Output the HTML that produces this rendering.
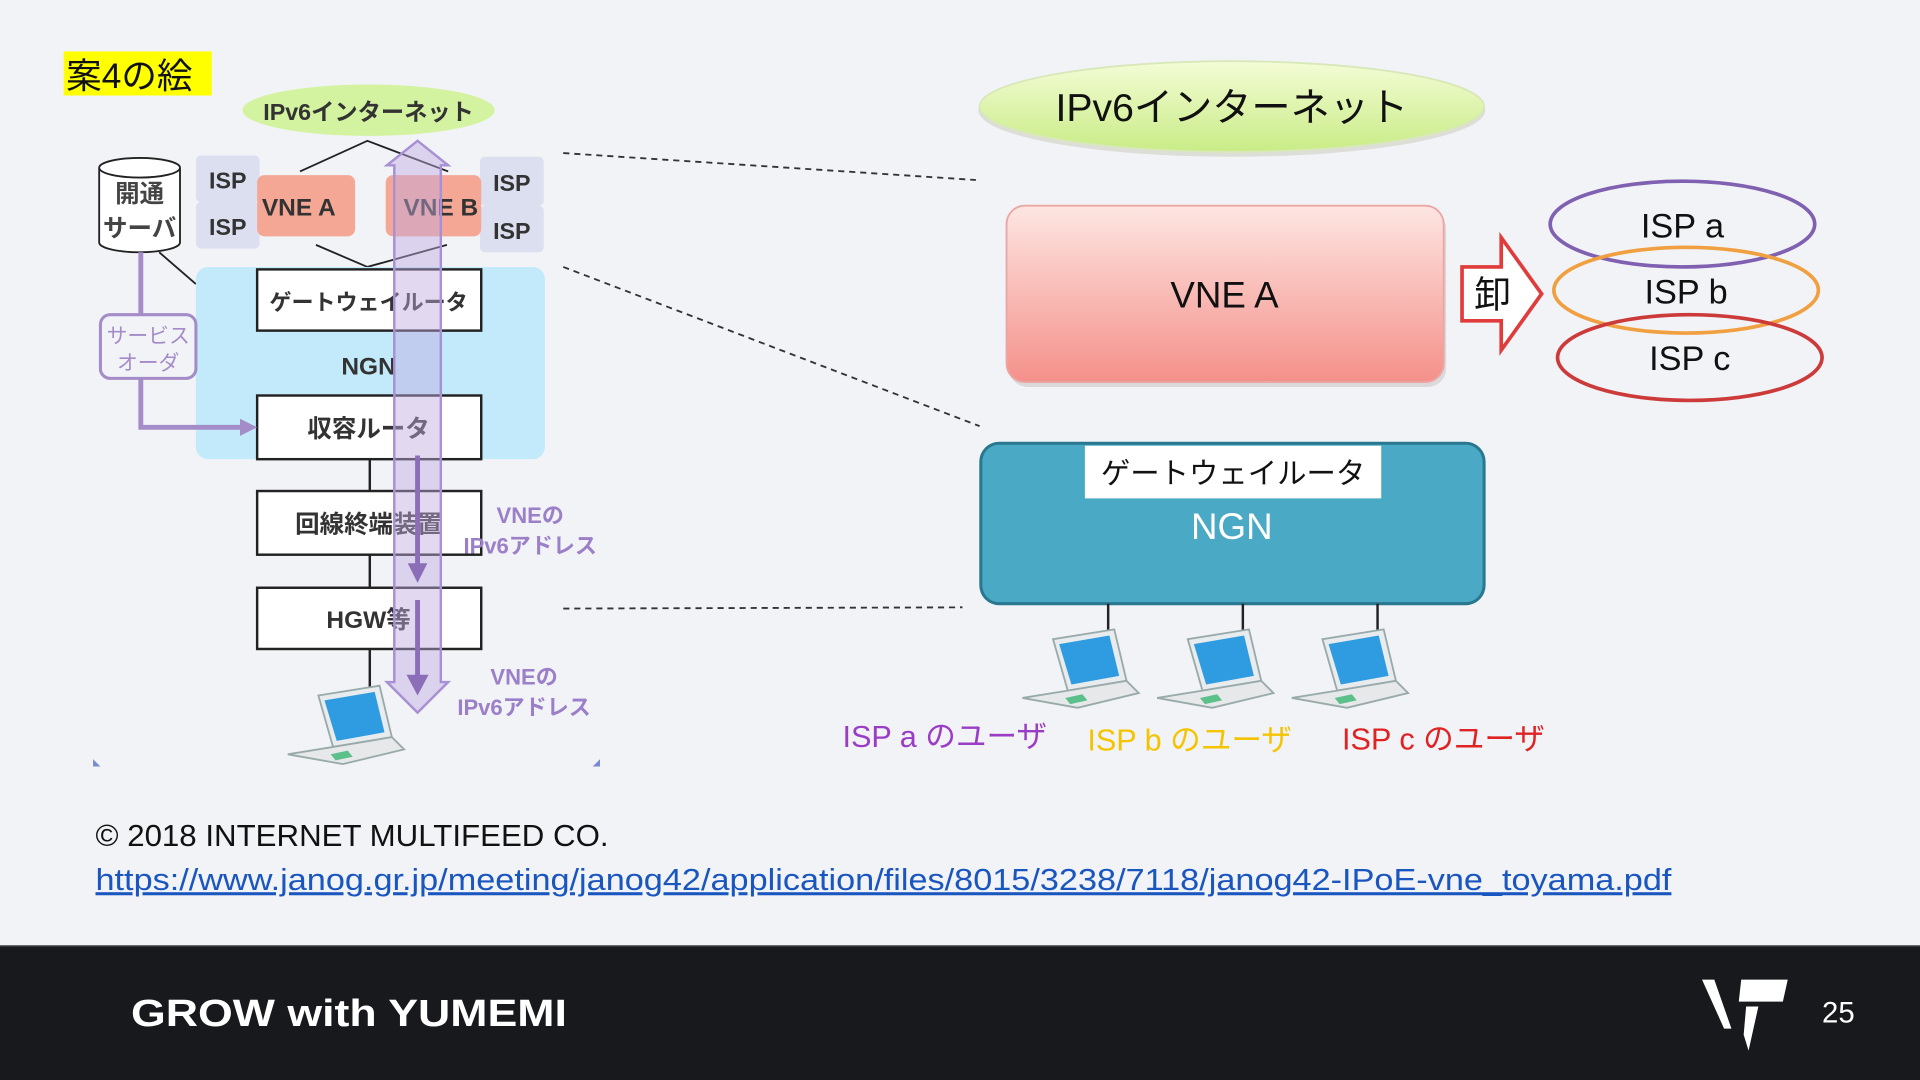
<!DOCTYPE html>
<html><head><meta charset="utf-8"><style>
html,body{margin:0;padding:0;width:1920px;height:1080px;overflow:hidden;background:#f2f3f7}
svg{display:block}
text{font-family:"Liberation Sans","Noto Sans CJK JP",sans-serif}
</style></head><body>
<svg width="1920" height="1080" viewBox="0 0 1568 882" xmlns="http://www.w3.org/2000/svg">
<defs>
<linearGradient id="gE" x1="0" y1="0" x2="0" y2="1"><stop offset="0" stop-color="#f4fcd6"/><stop offset="1" stop-color="#c9ec86"/></linearGradient>
<linearGradient id="gV" x1="0" y1="0" x2="0" y2="1"><stop offset="0" stop-color="#fde6e2"/><stop offset="1" stop-color="#f5908a"/></linearGradient>
<g id="lap">
<polygon points="-20,-28 30,-36 40,6 -8,14" fill="#e8ecef" stroke="#9aa" stroke-width="1.5"/>
<polygon points="-15,-24 26,-31 34,2 -5,9" fill="#2f9be0"/>
<polygon points="-8,14 40,6 50,16 0,28 -45,20" fill="#e6e8ea" stroke="#9aa" stroke-width="1.5"/>
<polygon points="-10,20 4,17 8,22 -6,25" fill="#5cc08a"/>
</g>
</defs>
<rect width="1568" height="882" fill="#f2f3f7"/>
<rect x="52" y="42" width="121" height="36" fill="#ffff00"/>
<text x="54" y="72" font-size="29" fill="#111">案4の絵</text>
<ellipse cx="301" cy="90" rx="103" ry="21" fill="#d3f3a0"/>
<text x="301" y="98" font-size="19" font-weight="bold" fill="#333" text-anchor="middle">IPv6インターネット</text>
<polyline points="245,140 300,115 366,140" fill="none" stroke="#222" stroke-width="1.5"/>
<polyline points="258,200 300,218 365,200" fill="none" stroke="#222" stroke-width="1.5"/>
<rect x="160" y="127" width="52" height="38" rx="4" fill="#dcdff0"/>
<rect x="160" y="165" width="52" height="38" rx="4" fill="#dcdff0"/>
<rect x="392" y="128" width="52" height="40" rx="4" fill="#dcdff0"/>
<rect x="392" y="168" width="52" height="38" rx="4" fill="#dcdff0"/>
<text x="186" y="154" font-size="19" font-weight="bold" fill="#333" text-anchor="middle">ISP</text>
<text x="186" y="192" font-size="19" font-weight="bold" fill="#333" text-anchor="middle">ISP</text>
<text x="418" y="156" font-size="19" font-weight="bold" fill="#333" text-anchor="middle">ISP</text>
<text x="418" y="195" font-size="19" font-weight="bold" fill="#333" text-anchor="middle">ISP</text>
<rect x="210" y="143" width="80" height="50" rx="6" fill="#f4a795"/>
<rect x="315" y="143" width="78" height="50" rx="6" fill="#f4a795"/>
<text x="244" y="176" font-size="20" font-weight="bold" fill="#333" text-anchor="middle">VNE A</text>
<text x="360" y="176" font-size="20" font-weight="bold" fill="#333" text-anchor="middle">VNE B</text>
<path d="M81,137 L81,198 A33,8 0 0 0 147,198 L147,137" fill="#fff" stroke="#222" stroke-width="1.5"/>
<ellipse cx="114" cy="137" rx="33" ry="8" fill="#fff" stroke="#222" stroke-width="1.5"/>
<text x="114" y="165" font-size="20" font-weight="bold" fill="#444" text-anchor="middle">開通</text>
<text x="114" y="193" font-size="20" font-weight="bold" fill="#444" text-anchor="middle">サーバ</text>
<line x1="130" y1="206" x2="160" y2="232" stroke="#222" stroke-width="1.5"/>
<rect x="160" y="218" width="285" height="157" rx="10" fill="#c2eafa"/>
<rect x="210" y="220" width="183" height="50" fill="#fff" stroke="#222" stroke-width="2"/>
<text x="301" y="253" font-size="18" font-weight="bold" fill="#333" text-anchor="middle">ゲートウェイルータ</text>
<text x="301" y="306" font-size="20" font-weight="bold" fill="#333" text-anchor="middle">NGN</text>
<rect x="210" y="323" width="183" height="52" fill="#fff" stroke="#222" stroke-width="2"/>
<text x="301" y="357" font-size="20" font-weight="bold" fill="#333" text-anchor="middle">収容ルータ</text>
<line x1="302" y1="375" x2="302" y2="401" stroke="#222" stroke-width="2"/>
<rect x="210" y="401" width="183" height="52" fill="#fff" stroke="#222" stroke-width="2"/>
<text x="301" y="435" font-size="20" font-weight="bold" fill="#333" text-anchor="middle">回線終端装置</text>
<line x1="302" y1="453" x2="302" y2="480" stroke="#222" stroke-width="2"/>
<rect x="210" y="480" width="183" height="50" fill="#fff" stroke="#222" stroke-width="2"/>
<text x="301" y="513" font-size="20" font-weight="bold" fill="#333" text-anchor="middle">HGW等</text>
<line x1="302" y1="530" x2="302" y2="575" stroke="#222" stroke-width="2"/>
<polyline points="115,206 115,349 200,349" fill="none" stroke="#a48cc8" stroke-width="4"/>
<polygon points="196,342 210,349 196,356" fill="#a48cc8"/>
<rect x="82" y="257" width="78" height="52" rx="8" fill="#f2f3f7" stroke="#a48cc8" stroke-width="2.5"/>
<text x="121" y="280" font-size="17" fill="#a48cc8" text-anchor="middle">サービス</text>
<text x="121" y="302" font-size="17" fill="#a48cc8" text-anchor="middle">オーダ</text>
<polygon points="341,115 366,135 360,135 360,557 366,557 341,582 316,557 322,557 322,135 316,135" fill="rgba(190,170,225,0.45)" stroke="#a890d4" stroke-width="2"/>
<line x1="341" y1="372" x2="341" y2="462" stroke="#8a6fb8" stroke-width="4"/>
<polygon points="333,460 349,460 341,476" fill="#8a6fb8"/>
<line x1="341" y1="490" x2="341" y2="553" stroke="#8a6fb8" stroke-width="4"/>
<polygon points="332,551 350,551 341,568" fill="#8a6fb8"/>
<text x="433" y="427" font-size="18" font-weight="bold" fill="#9b7fc8" text-anchor="middle">VNEの</text>
<text x="433" y="452" font-size="18" font-weight="bold" fill="#9b7fc8" text-anchor="middle">IPv6アドレス</text>
<text x="428" y="559" font-size="18" font-weight="bold" fill="#9b7fc8" text-anchor="middle">VNEの</text>
<text x="428" y="584" font-size="18" font-weight="bold" fill="#9b7fc8" text-anchor="middle">IPv6アドレス</text>
<use href="#lap" x="280" y="596"/>
<polygon points="76,626 82,626 76,620" fill="#7a8ad0"/>
<polygon points="490,626 484,626 490,620" fill="#7a8ad0"/>
<line x1="460" y1="125" x2="797" y2="147" stroke="#333" stroke-width="1.5" stroke-dasharray="5,4"/>
<line x1="460" y1="218" x2="800" y2="348" stroke="#333" stroke-width="1.5" stroke-dasharray="5,4"/>
<line x1="460" y1="497" x2="786" y2="496" stroke="#333" stroke-width="1.5" stroke-dasharray="5,4"/>
<ellipse cx="1006" cy="90" rx="207" ry="38" fill="#c6c9b8" opacity="0.5"/>
<ellipse cx="1006" cy="87" rx="206" ry="37" fill="url(#gE)" stroke="#d8e8b8" stroke-width="1.5"/>
<text x="1006" y="99" font-size="32" fill="#111" text-anchor="middle">IPv6インターネット</text>
<rect x="824" y="172" width="357" height="144" rx="15" fill="#c8c0c0" opacity="0.5"/>
<rect x="822" y="168" width="357" height="144" rx="15" fill="url(#gV)" stroke="#eaa6a4" stroke-width="1.5"/>
<text x="1000" y="251" font-size="30" fill="#111" text-anchor="middle">VNE A</text>
<polygon points="1194,218 1226,218 1226,194 1259,240 1226,286 1226,262 1194,262" fill="#fff" stroke="#e03c3c" stroke-width="3"/>
<text x="1219" y="251" font-size="30" fill="#111" text-anchor="middle">卸</text>
<ellipse cx="1374" cy="183" rx="108" ry="35" fill="none" stroke="#8060b0" stroke-width="3"/>
<ellipse cx="1377" cy="237" rx="108" ry="35" fill="none" stroke="#f0a040" stroke-width="3"/>
<ellipse cx="1380" cy="292" rx="108" ry="35" fill="none" stroke="#cc3a3a" stroke-width="3"/>
<text x="1374" y="194" font-size="28" fill="#111" text-anchor="middle">ISP a</text>
<text x="1377" y="248" font-size="28" fill="#111" text-anchor="middle">ISP b</text>
<text x="1380" y="302" font-size="28" fill="#111" text-anchor="middle">ISP c</text>
<rect x="801" y="362" width="411" height="131" rx="15" fill="#4aaac6" stroke="#2a7890" stroke-width="2.5"/>
<rect x="886" y="364" width="242" height="43" fill="#fff"/>
<text x="1007" y="395" font-size="24" fill="#111" text-anchor="middle">ゲートウェイルータ</text>
<text x="1006" y="440" font-size="30" fill="#fff" text-anchor="middle">NGN</text>
<line x1="905" y1="493" x2="905" y2="518" stroke="#222" stroke-width="2"/>
<line x1="1015" y1="493" x2="1015" y2="518" stroke="#222" stroke-width="2"/>
<line x1="1125" y1="493" x2="1125" y2="518" stroke="#222" stroke-width="2"/>
<use href="#lap" x="880" y="550"/>
<use href="#lap" x="990" y="550"/>
<use href="#lap" x="1100" y="550"/>
<text x="688" y="610" font-size="25" fill="#9a3cc6">ISP a のユーザ</text>
<text x="888" y="613" font-size="25" fill="#f5c400">ISP b のユーザ</text>
<text x="1096" y="612" font-size="25" fill="#e02222">ISP c のユーザ</text>
<text x="78" y="691" font-size="25" fill="#111" textLength="419" lengthAdjust="spacingAndGlyphs">© 2018 INTERNET MULTIFEED CO.</text>
<text x="78" y="727" font-size="25" fill="#1a56c0" text-decoration="underline" textLength="1287" lengthAdjust="spacingAndGlyphs">https://www.janog.gr.jp/meeting/janog42/application/files/8015/3238/7118/janog42-IPoE-vne_toyama.pdf</text>
<rect x="0" y="772" width="1568" height="110" fill="#18191d"/>
<line x1="0" y1="772.5" x2="1568" y2="772.5" stroke="#555" stroke-width="1"/>
<text x="107" y="838" font-size="31" font-weight="bold" fill="#fff" textLength="356" lengthAdjust="spacingAndGlyphs">GROW with YUMEMI</text>
<polygon points="1390,800 1400,800 1414,840 1408,840" fill="#fff"/>
<polygon points="1422,800 1460,800 1456,818 1420,818" fill="#fff"/>
<polygon points="1426,822 1436,822 1428,858 1424,845" fill="#fff"/>
<text x="1488" y="835" font-size="24" fill="#fff">25</text>
</svg>
</body></html>
